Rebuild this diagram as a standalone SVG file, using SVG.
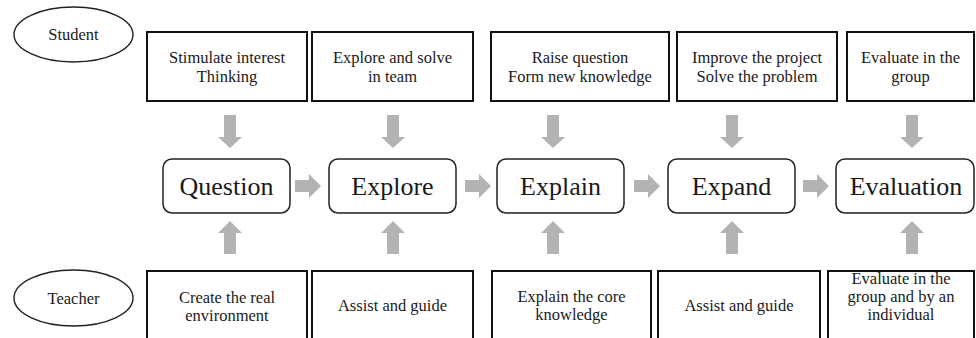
<svg xmlns="http://www.w3.org/2000/svg" width="976" height="338" viewBox="0 0 976 338">
  <defs>
    <style>
      .box { fill: #ffffff; stroke: #111111; stroke-width: 2; }
      .stage { fill: #ffffff; stroke: #222222; stroke-width: 1.5; }
      .role { fill: #ffffff; stroke: #222222; stroke-width: 1.4; }
      text { font-family: 'Liberation Serif', 'Times New Roman', serif; fill: #1a1a1a; text-anchor: middle; }
      .small { font-size: 16.5px; }
      .big { font-size: 26px; }
      .arrow { fill: #b3b3b3; }
    </style>
    <!-- block arrows, drawn pointing down / up / right around origin -->
    <path id="down" d="M -6 0 H 6 V 22 H 12 L 0 33 L -12 22 H -6 Z"/>
    <path id="up" d="M -6 33 H 6 V 12 H 12 L 0 0 L -12 12 H -6 Z"/>
    <path id="right" d="M 0 -6 V 6 H 14 V 12 L 26 0 L 14 -12 V -6 Z"/>
  </defs>

  <!-- roles -->
  <g id="student">
    <ellipse class="role" cx="73.5" cy="34.5" rx="59.5" ry="27.5"/>
    <text class="small" x="73.5" y="40">Student</text>
  </g>
  <g id="teacher">
    <ellipse class="role" cx="73.5" cy="298" rx="59.5" ry="28"/>
    <text class="small" x="73.5" y="304">Teacher</text>
  </g>

  <!-- student activities -->
  <g id="s1">
    <rect class="box" x="147" y="32" width="160" height="69"/>
    <text class="small" x="227" y="63">Stimulate interest</text>
    <text class="small" x="227" y="82">Thinking</text>
  </g>
  <g id="s2">
    <rect class="box" x="312" y="32" width="161" height="69"/>
    <text class="small" x="392.5" y="63">Explore and solve</text>
    <text class="small" x="392.5" y="82">in team</text>
  </g>
  <g id="s3">
    <rect class="box" x="491" y="32" width="178" height="69"/>
    <text class="small" x="580" y="63">Raise question</text>
    <text class="small" x="580" y="82">Form new knowledge</text>
  </g>
  <g id="s4">
    <rect class="box" x="677" y="32" width="160" height="69"/>
    <text class="small" x="757" y="63">Improve the project</text>
    <text class="small" x="757" y="82">Solve the problem</text>
  </g>
  <g id="s5">
    <rect class="box" x="847" y="32" width="127" height="69"/>
    <text class="small" x="910.5" y="63">Evaluate in the</text>
    <text class="small" x="910.5" y="82">group</text>
  </g>

  <!-- stages -->
  <g id="question">
    <rect class="stage" x="163" y="159" width="127" height="54" rx="9"/>
    <text class="big" x="226.5" y="195">Question</text>
  </g>
  <g id="explore">
    <rect class="stage" x="329" y="159" width="127" height="54" rx="9"/>
    <text class="big" x="392.5" y="195">Explore</text>
  </g>
  <g id="explain">
    <rect class="stage" x="497" y="159" width="127" height="54" rx="9"/>
    <text class="big" x="560.5" y="195">Explain</text>
  </g>
  <g id="expand">
    <rect class="stage" x="668" y="159" width="127" height="54" rx="9"/>
    <text class="big" x="731.5" y="195">Expand</text>
  </g>
  <g id="evaluation">
    <rect class="stage" x="836" y="159" width="138" height="54" rx="9"/>
    <text class="big" x="906" y="195">Evaluation</text>
  </g>

  <!-- teacher activities -->
  <g id="t1">
    <rect class="box" x="147" y="271" width="160" height="80"/>
    <text class="small" x="227" y="303">Create the real</text>
    <text class="small" x="227" y="321">environment</text>
  </g>
  <g id="t2">
    <rect class="box" x="312" y="271" width="161" height="80"/>
    <text class="small" x="392.5" y="311">Assist and guide</text>
  </g>
  <g id="t3">
    <rect class="box" x="492" y="271" width="159" height="80"/>
    <text class="small" x="571.5" y="302">Explain the core</text>
    <text class="small" x="571.5" y="320">knowledge</text>
  </g>
  <g id="t4">
    <rect class="box" x="658" y="271" width="162" height="80"/>
    <text class="small" x="739" y="311">Assist and guide</text>
  </g>
  <g id="t5">
    <rect class="box" x="828" y="271" width="146" height="80"/>
    <text class="small" x="901" y="284">Evaluate in the</text>
    <text class="small" x="901" y="302">group and by an</text>
    <text class="small" x="901" y="320">individual</text>
  </g>

  <!-- connectors -->
  <g id="connectors" class="arrow">
    <use href="#down" x="230" y="115"/>
    <use href="#down" x="393" y="115"/>
    <use href="#down" x="553" y="115"/>
    <use href="#down" x="732" y="115"/>
    <use href="#down" x="912" y="115"/>

    <use href="#up" x="230" y="221"/>
    <use href="#up" x="393" y="221"/>
    <use href="#up" x="553" y="221"/>
    <use href="#up" x="732" y="221"/>
    <use href="#up" x="912" y="221"/>

    <use href="#right" x="295" y="186"/>
    <use href="#right" x="465" y="186"/>
    <use href="#right" x="634" y="186"/>
    <use href="#right" x="803" y="186"/>
  </g>
</svg>
